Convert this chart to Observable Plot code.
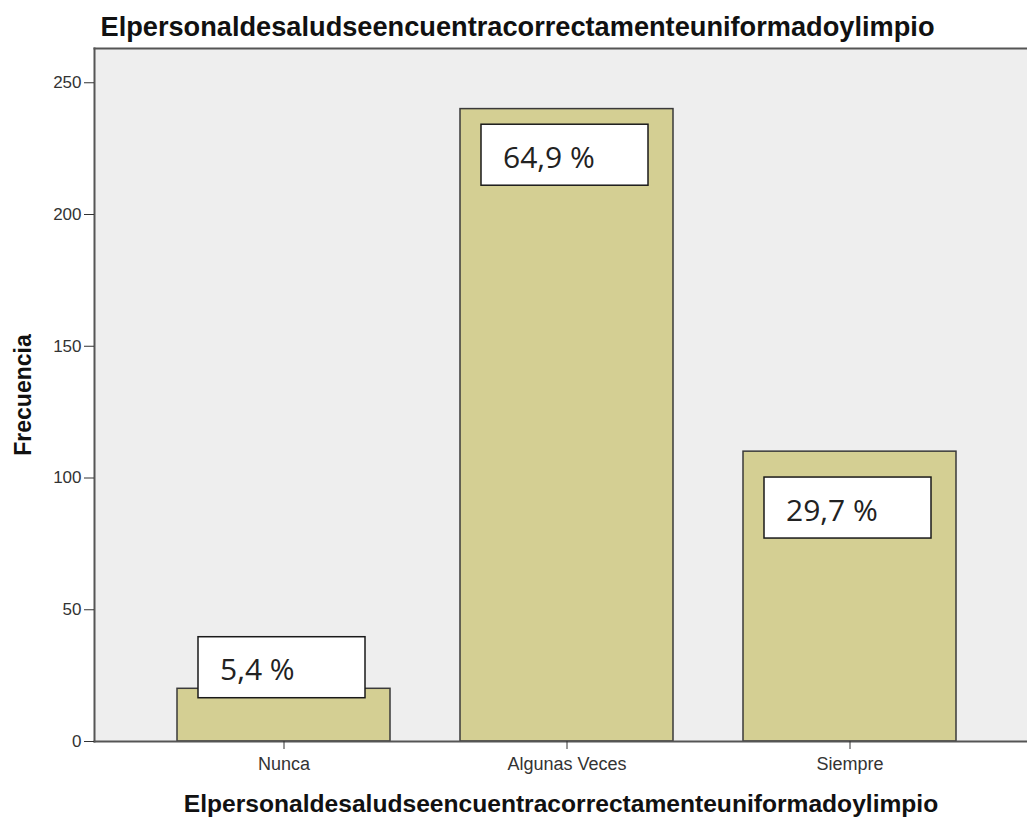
<!DOCTYPE html>
<html>
<head>
<meta charset="utf-8">
<script src="https://cdn.jsdelivr.net/npm/d3@7"></script>
<script src="https://cdn.jsdelivr.net/npm/@observablehq/plot@0.6"></script>
<style>
  body { margin: 0; background: #fff; }
  #chart svg { display: block; }
</style>
</head>
<body>
<div id="chart"></div>
<script>
const titleText = "Elpersonaldesaludseencuentracorrectamenteuniformadoylimpio";
const yLabel = "Frecuencia";
const categories = ["Nunca", "Algunas Veces", "Siempre"];
const frequencies = [20, 240, 110];
const percentLabels = ["5,4 %", "64,9 %", "29,7 %"];
const labelCenters = [28, 222.5, 88.6]; // annotation box centres, in frequency units
const yTicks = [0, 50, 100, 150, 200, 250];

const data = categories.map((c, i) => ({
  cat: c, freq: frequencies[i], label: percentLabels[i], at: labelCenters[i]
}));

const W = 1027, H = 817, mT = 48, mB = 76, mL = 94;
const yMax = 263;
const boxHalf = 30.5 * yMax / (H - mT - mB);

const plot = Plot.plot({
  width: W, height: H,
  marginLeft: mL, marginRight: 0, marginTop: mT, marginBottom: mB,
  style: { fontFamily: "Liberation Sans, Arial, sans-serif", background: "#fff", overflow: "visible" },
  x: { domain: categories, range: [94, 1039], paddingInner: 0.247, paddingOuter: 0.293, label: null },
  y: { domain: [0, yMax], label: null },
  marks: [
    Plot.frame({ fill: "#eeeeee", stroke: null }),
    Plot.barY(data, { x: "cat", y: "freq", fill: "#d4cf93", stroke: "#3a3a3a", strokeWidth: 1.5 }),
    Plot.barY(data, { x: "cat", y1: d => d.at - boxHalf, y2: d => d.at + boxHalf,
      fill: "#ffffff", stroke: "#1a1a1a", strokeWidth: 1.5, insetLeft: 23, insetRight: 23, dx: -2 }),
    Plot.text(data, { x: "cat", y: "at", text: "label", textAnchor: "start", dx: -64, dy: 3,
      fontFamily: "Open Sans, Noto Sans, sans-serif", fontSize: 30, fill: "#222" }),
    Plot.frame({ anchor: "left", stroke: "#555", strokeWidth: 2 }),
    Plot.frame({ anchor: "top", stroke: "#555", strokeWidth: 2 }),
    Plot.frame({ anchor: "bottom", stroke: "#555", strokeWidth: 2 }),
    Plot.axisY({ ticks: yTicks, tickSize: 10, tickPadding: 3, fontSize: 17, color: "#333", label: null }),
    Plot.axisX({ tickSize: 8, tickPadding: 8, fontSize: 18, color: "#333", label: null }),
    Plot.text([titleText], { frameAnchor: "top-left", textAnchor: "start", lineAnchor: "middle",
      dx: 6, dy: -21, fontSize: 27.2, fontWeight: "bold", fill: "#111" }),
    Plot.text([titleText], { frameAnchor: "bottom", textAnchor: "middle", lineAnchor: "middle",
      dy: 63, fontSize: 24.6, fontWeight: "bold", fill: "#111" }),
    Plot.text([yLabel], { frameAnchor: "left", textAnchor: "middle", lineAnchor: "middle",
      rotate: -90, dx: -71, fontSize: 23, fontWeight: "bold", fill: "#111" })
  ]
});
document.getElementById("chart").appendChild(plot);
</script>
</body>
</html>
